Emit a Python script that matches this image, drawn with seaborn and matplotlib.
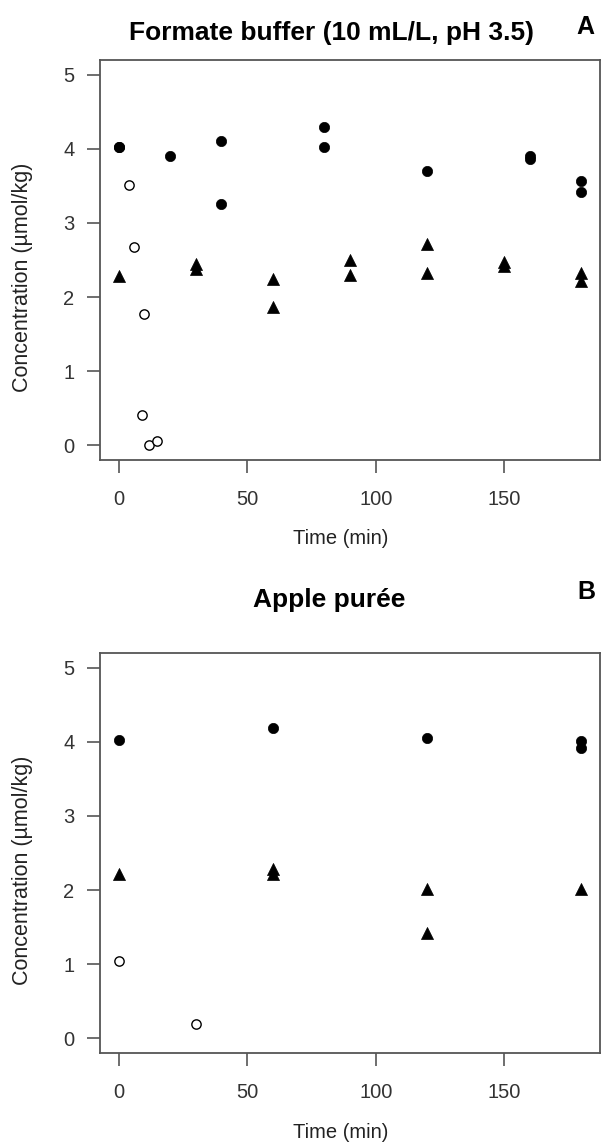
import matplotlib
matplotlib.use("Agg")
import matplotlib.pyplot as plt
import seaborn as sns

# ---- Panel A: Formate buffer ----
a_circ_t = [0, 0, 20, 40, 40, 80, 80, 120, 160, 160, 180, 180]
a_circ_v = [4.03, 4.03, 3.90, 4.11, 3.25, 4.29, 4.03, 3.70, 3.91, 3.86, 3.56, 3.42]
a_tri_t = [0, 30, 30, 60, 60, 90, 90, 120, 120, 150, 150, 180, 180]
a_tri_v = [2.28, 2.45, 2.38, 2.25, 1.86, 2.50, 2.30, 2.72, 2.33, 2.47, 2.42, 2.33, 2.22]
a_open_t = [4, 6, 10, 9, 12, 15]
a_open_v = [3.51, 2.68, 1.77, 0.41, 0.00, 0.06]

# ---- Panel B: Apple puree ----
b_circ_t = [0, 60, 120, 180, 180]
b_circ_v = [4.02, 4.19, 4.05, 4.01, 3.92]
b_tri_t = [0, 60, 60, 120, 120, 180]
b_tri_v = [2.21, 2.29, 2.21, 2.02, 1.42, 2.02]
b_open_t = [0, 30]
b_open_v = [1.04, 0.19]

titles = ["Formate buffer (10 mL/L, pH 3.5)", "Apple purée"]
letters = ["A", "B"]
xticks = [0, 50, 100, 150]
yticks = [0, 1, 2, 3, 4, 5]
xlabel = "Time (min)"
ylabel = "Concentration (µmol/kg)"

sns.set_theme(style="white")
plt.rcParams["font.family"] = ["Liberation Sans", "DejaVu Sans"]

W, H = 602, 1148
fig = plt.figure(figsize=(W / 100, H / 100), dpi=100)

def frac(left, top, right, bottom):
    return [left / W, 1 - bottom / H, (right - left) / W, (bottom - top) / H]

axA = fig.add_axes(frac(100, 60, 600, 460))
axB = fig.add_axes(frac(100, 653, 600, 1053))

panels = [
    (axA, a_circ_t, a_circ_v, a_tri_t, a_tri_v, a_open_t, a_open_v),
    (axB, b_circ_t, b_circ_v, b_tri_t, b_tri_v, b_open_t, b_open_v),
]

for i, (ax, ct, cv, tt, tv, ot, ov) in enumerate(panels):
    sns.scatterplot(x=ct, y=cv, ax=ax, marker="o", s=55, color="black",
                    edgecolor="black", linewidth=0.5, zorder=3)
    sns.scatterplot(x=tt, y=tv, ax=ax, marker="^", s=75, color="black",
                    edgecolor="black", linewidth=0.5, zorder=3)
    sns.scatterplot(x=ot, y=ov, ax=ax, marker="o", s=45, facecolor="white",
                    edgecolor="black", linewidth=1.0, zorder=3)
    ax.set_xlim(-7.2, 187.2)
    ax.set_ylim(-0.2, 5.2)
    ax.set_xticks(xticks)
    ax.set_yticks(yticks)
    ax.tick_params(axis="both", which="both", direction="out", length=9.5,
                   width=1.2, color="#555555", labelsize=14.5,
                   labelcolor="#333333", bottom=True, left=True)
    ax.tick_params(axis="y", pad=9)
    ax.tick_params(axis="x", pad=12)
    for sp in ax.spines.values():
        sp.set_visible(True)
        sp.set_color("#555555")
        sp.set_linewidth(1.3)
    ax.set_xlabel(xlabel, fontsize=14.5, color="#222222")
    ax.set_ylabel(ylabel, fontsize=15.5, color="#222222")
    ax.xaxis.set_label_coords(0.482, -0.1975)
    ax.xaxis.label.set_va("center")
    ax.yaxis.set_label_coords(-0.154, 0.4575)
    ax.yaxis.label.set_va("center")
    ax.grid(False)

fig.text(332 / W, 1 - 33 / H, titles[0], ha="center", va="center",
         fontsize=19, fontweight="bold", color="black")
fig.text(585 / W, 1 - 27 / H, letters[0], ha="center", va="center",
         fontsize=18, fontweight="bold", color="black")
fig.text(329 / W, 1 - 600 / H, titles[1], ha="center", va="center",
         fontsize=19, fontweight="bold", color="black")
fig.text(586 / W, 1 - 592 / H, letters[1], ha="center", va="center",
         fontsize=18, fontweight="bold", color="black")

fig.savefig("out.png", dpi=100, facecolor="white")
